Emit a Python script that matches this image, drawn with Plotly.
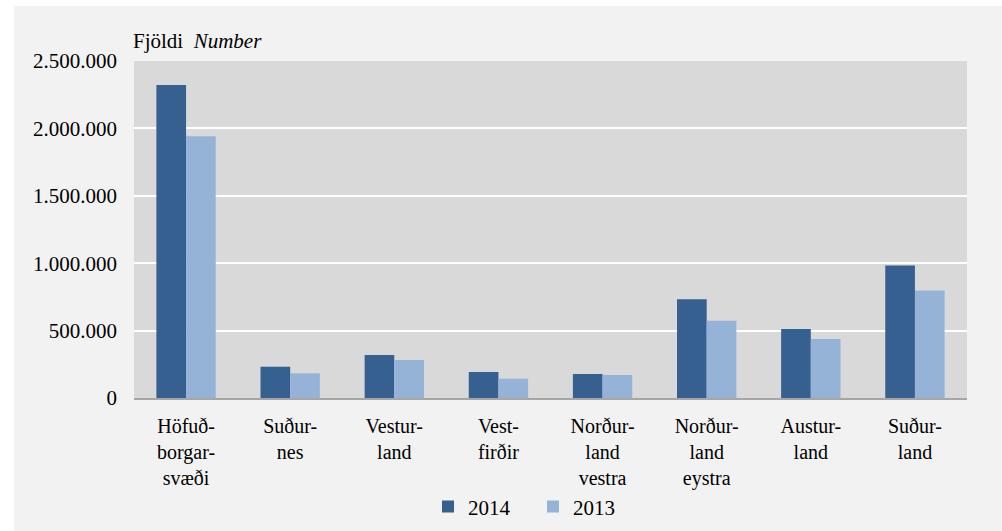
"""
Grouped bar chart: number by region, 2014 vs 2013
"""

import plotly.graph_objects as go

regions = [
    "Höfuð-<br>borgar-<br>svæði",
    "Suður-<br>nes",
    "Vestur-<br>land",
    "Vest-<br>firðir",
    "Norður-<br>land<br>vestra",
    "Norður-<br>land<br>eystra",
    "Austur-<br>land",
    "Suður-<br>land",
]
values_2014 = [2322000, 232000, 319000, 193000, 178000, 732000, 512000, 983000]
values_2013 = [1941000, 183000, 282000, 143000, 171000, 573000, 438000, 797000]
y_ticks = [0, 500000, 1000000, 1500000, 2000000, 2500000]

FONT = "Liberation Serif, Times New Roman, serif"

fig = go.Figure()

fig.add_trace(go.Bar(
    x=regions, y=values_2014,
    name="2014",
    marker=dict(color="#36608f", line=dict(width=0)),
))

fig.add_trace(go.Bar(
    x=regions, y=values_2013,
    name="2013",
    marker=dict(color="#95b3d7", line=dict(width=0)),
))

# title above the plot area
fig.add_annotation(
    text="Fjöldi  <i>Number</i>",
    xref="paper", yref="paper", x=0, y=1,
    xanchor="left", yanchor="bottom", yshift=6, xshift=-3,
    showarrow=False,
    font=dict(family=FONT, size=21, color="#000000"),
)

# white strips above and left of the gray panel
fig.add_shape(type="rect", xref="paper", yref="paper",
              x0=-0.2, x1=1.1, y0=1 + 55 / 337, y1=1.3,
              fillcolor="white", line=dict(width=0), layer="above")
fig.add_shape(type="rect", xref="paper", yref="paper",
              x0=-0.2, x1=-120 / 833, y0=-0.5, y1=1.3,
              fillcolor="white", line=dict(width=0), layer="above")

fig.update_layout(
    width=1002,
    height=531,
    margin=dict(l=134, r=35, t=61, b=133, autoexpand=False),
    paper_bgcolor="#f2f2f2",
    plot_bgcolor="#d9d9d9",
    separators=",.",
    font=dict(family=FONT, size=21, color="#000000"),
    barmode="group",
    bargap=0.43,
    bargroupgap=0,
    showlegend=True,
    legend=dict(
        orientation="h",
        x=0.479, xanchor="center",
        y=-0.323, yanchor="middle",
        bgcolor="rgba(0,0,0,0)",
        font=dict(family=FONT, size=21),
        entrywidth=60,
        traceorder="normal",
    ),
    xaxis=dict(
        automargin=False,
        showgrid=False,
        showline=True,
        linecolor="#a6a6a6",
        linewidth=1.5,
        ticks="",
        ticklabelstandoff=9,
        tickfont=dict(family=FONT, size=20),
    ),
    yaxis=dict(
        automargin=False,
        range=[0, 2500000],
        tickvals=y_ticks,
        tickformat=",d",
        showgrid=True,
        gridcolor="#ffffff",
        gridwidth=1.5,
        zeroline=False,
        showline=False,
        ticks="",
        ticklabelstandoff=16,
        tickfont=dict(family=FONT, size=21),
    ),
)

fig.write_html(
    "out.html",
    config={"displayModeBar": False},
    post_script="document.body.style.margin='0';document.body.style.overflow='hidden';",
)
